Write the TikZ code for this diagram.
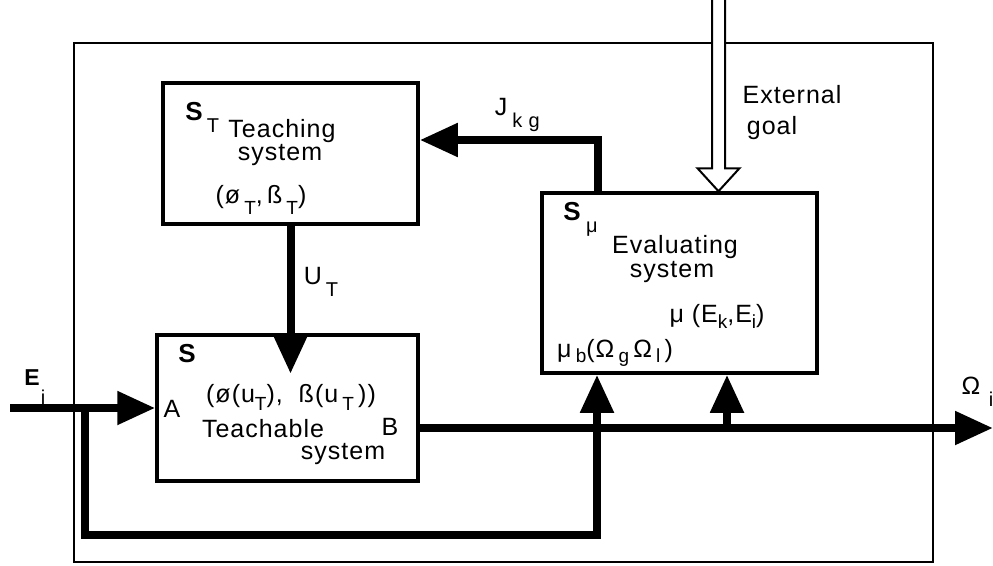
\documentclass[tikz,border=0pt]{standalone}
\usepackage{fontspec}
\setmainfont{Liberation Sans}[LetterSpace=4]
\usetikzlibrary{arrows.meta,calc}
\newcommand\dsub[2][6pt]{\raisebox{-#1}{\fontsize{19}{19}\selectfont #2}}
\begin{document}
\begin{tikzpicture}[x=1pt,y=-1pt,
  box/.style={draw,line width=3.5pt,rectangle,inner sep=0pt},
  heavy/.style={line width=8pt},
  tip/.style={-{Triangle[length=38pt,width=32pt]}},
  lbl/.style={font=\fontsize{25}{28}\selectfont,inner sep=0pt,anchor=base},
  small/.style={font=\fontsize{20}{20}\selectfont,inner sep=0pt},
  sym/.style={font=\fontsize{26}{28}\selectfont\bfseries,inner sep=0pt},
]
\useasboundingbox (0,0) rectangle (993,565);
% outer frame
\node[draw,line width=2pt,inner sep=0pt,minimum width=859pt,minimum height=519pt] (frame) at (503.5,302.5) {};
% boxes
\node[box,minimum width=255pt,minimum height=141pt] (teaching) at (290.5,153.5) {};
\node[box,minimum width=275pt,minimum height=180pt] (eval) at (679.5,283) {};
\node[box,minimum width=261pt,minimum height=146pt] (teach) at (287.5,408) {};
% coordinates
\coordinate (ein) at (10,408);
\coordinate (fb) at (85,408);
\coordinate (j1) at (597,535);
\coordinate (j2) at (727,428);
\coordinate (out) at (993,428);
\coordinate (goaltop) at (718.5,0);
\coordinate (gtip) at (eval.north -| goaltop);
\coordinate (jk) at ($(eval.north west)+(58,0)$);
% connectors
\draw[heavy,tip] (ein) -- (teach.west);
\draw[heavy,tip] (fb) |- (j1) -- (j1 |- eval.south);
\draw[heavy,tip] ($(teach.east)+(0,20)$) -- (out);
\draw[heavy,tip] (j2) -- (j2 |- eval.south);
\draw[heavy,tip] (teaching.south) -- ++(0,148);
\draw[heavy,tip] (jk) |- ($(teaching.east)+(0,-13.5)$);
\draw[line width=2pt,line join=miter,fill=white]
  ($(goaltop)+(-6.5,0)$) -- ($(gtip)+(-6.5,-23)$) -- ($(gtip)+(-21,-23)$) -- (gtip)
  -- ($(gtip)+(21,-23)$) -- ($(gtip)+(6.5,-23)$) -- ($(goaltop)+(6.5,0)$);
% teaching box texts
\node[sym] (st) at (194,112) {S};
\node[small] (stsub) at (213,126) {T};
\node[lbl] (t1) at (282,137) {Teaching};
\node[lbl] (t2) at (280,160) {system};
\node[lbl] (t3) at (261,203) {(ø\,\dsub[11pt]{T},\,ß\,\dsub[11pt]{T})};
% evaluating box texts
\node[sym] (sm) at (572,212) {S};
\node[small] (smsub) at (592,229) {μ};
\node[lbl] (e1) at (675,253) {Evaluating};
\node[lbl] (e2) at (672,277) {system};
\node[lbl] (e3) at (717,322) {μ (E\dsub{k},E\dsub{i})};
\node[lbl,anchor=base west] (e4) at (557,357) {μ\,\dsub[5pt]{b}(Ω\,\dsub[5pt]{g}\,Ω\,\dsub[5pt]{l}\,)};
% teachable box texts
\node[sym] (s) at (187,354) {S};
\node[lbl] (a1) at (291,402) {(ø(u\dsub[8pt]{T}),\ \ ß(u\,\dsub[8pt]{T}\,))};
\node[lbl] (la) at (172,417) {A};
\node[lbl] (a2) at (263,437) {Teachable};
\node[lbl] (a3) at (343,459) {system};
\node[lbl] (lb) at (390,435) {B};
% connector labels
\node[sym,font=\fontsize{23}{24}\selectfont\bfseries] (ei) at (32,378) {E};
\node[small] (eisub) at (43,397) {i};
\node[font=\fontsize{25}{28}\selectfont,inner sep=0pt] (om) at (971,386) {Ω};
\node[small] (omsub) at (991,399) {i};
\node[font=\fontsize{25}{28}\selectfont,inner sep=0pt] (ut) at (313,276) {U};
\node[small] (utsub) at (332,290) {T};
\node[font=\fontsize{25}{28}\selectfont,inner sep=0pt] (jkg) at (501,107) {J};
\node[small] (jkgsub) at (526,122) {k g};
\node[lbl] (g1) at (792,103) {External};
\node[lbl] (g2) at (772,134) {goal};
\end{tikzpicture}
\end{document}
